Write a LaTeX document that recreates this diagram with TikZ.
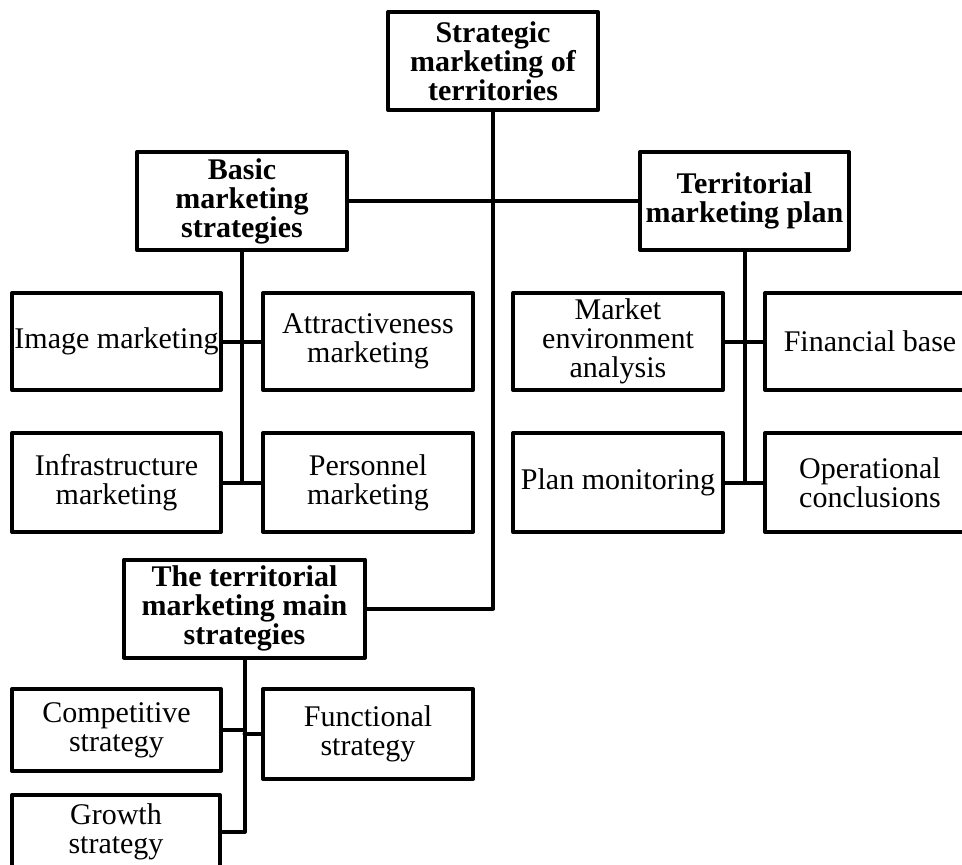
\documentclass[tikz,border=0pt]{standalone}
\usepackage{fontspec}
\setmainfont{Liberation Serif}
\begin{document}
\begin{tikzpicture}[x=1pt, y=-1pt, line join=round, line cap=round,
	box/.style={draw, line width=4pt, inner sep=0pt, align=center,
		minimum width=209pt, minimum height=98pt, font=\fontsize{30}{29}\selectfont},
	headbox/.style={box, font=\fontsize{30}{29}\selectfont\bfseries},
	link/.style={line width=4pt}]
	\useasboundingbox (0,0) rectangle (962,865);
	% top level
	\node[headbox, minimum width=210pt] (top) at (493,61) {Strategic\\marketing of\\territories};
	\node[headbox, minimum width=210pt] (basic) at (242,201) {Basic\\marketing\\strategies};
	\node[headbox] (plan) at (744.5,201) {Territorial\\marketing plan};
	\node[headbox, minimum width=241pt] (mainstr) at (244.5,608.5) {The territorial\\marketing main\\strategies};
	% basic strategies
	\node[box, minimum height=97pt] (image) at (116.5,341.5) {Image marketing};
	\node[box, minimum width=210pt, minimum height=97pt] (attract) at (368,341.5) {Attractiveness\\marketing};
	\node[box, minimum height=99pt] (infra) at (116.5,482.5) {Infrastructure\\marketing};
	\node[box, minimum width=210pt, minimum height=99pt] (person) at (368,482.5) {Personnel\\marketing};
	% marketing plan
	\node[box, minimum width=210pt, minimum height=97pt] (market) at (618,341.5) {Market\\environment\\analysis};
	\node[box, minimum width=210pt, minimum height=97pt] (finance) at (870,341.5) {Financial base};
	\node[box, minimum width=210pt, minimum height=99pt] (monitor) at (618,482.5) {Plan monitoring};
	\node[box, minimum width=210pt, minimum height=99pt] (oper) at (870,482.5) {Operational\\conclusions};
	% main strategies
	\node[box, minimum height=82pt] (compet) at (116.5,730) {Competitive\\strategy};
	\node[box, minimum width=210pt, minimum height=90pt] (funct) at (368,734) {Functional\\strategy};
	\node[box, minimum width=208pt, minimum height=74pt] (growth) at (116,832) {Growth\\strategy};
	% connectors
	\draw[link] (top) |- (mainstr);
	\draw[link] (basic) -- (plan);
	\draw[link] (basic.south) -- (basic.south |- infra.east);
	\draw[link] (image) -- (attract);
	\draw[link] (infra) -- (person);
	\draw[link] (plan.south) -- (plan.south |- monitor.east);
	\draw[link] (market) -- (finance);
	\draw[link] (monitor) -- (oper);
	\draw[link] (mainstr.south) |- (growth.east);
	\draw[link] (compet.east) -- (compet.east -| mainstr.south);
	\draw[link] (funct.west) -- (funct.west -| mainstr.south);
\end{tikzpicture}
\end{document}
